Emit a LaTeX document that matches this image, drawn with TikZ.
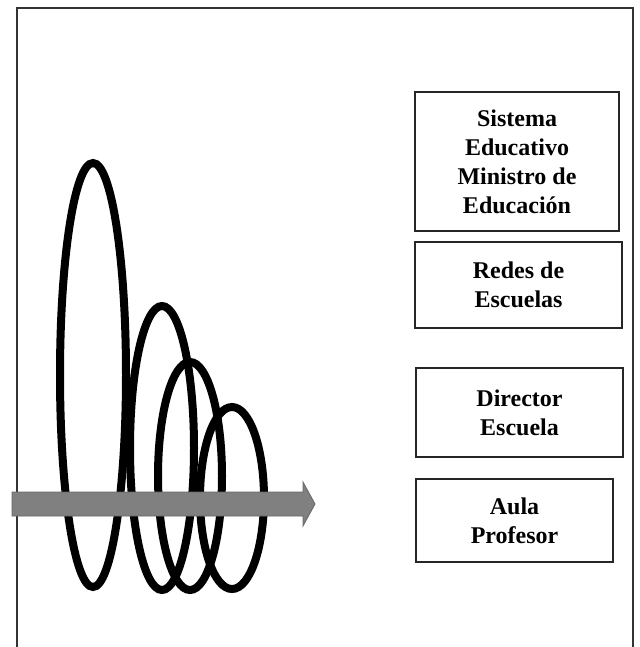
\documentclass[tikz,border=0pt]{standalone}
\usepackage{fontspec}
\setmainfont{Liberation Serif}
\usetikzlibrary{shapes.geometric}
\begin{document}
\begin{tikzpicture}[x=1pt,y=-1pt,
  loop/.style={draw=black,line width=8pt,ellipse,inner sep=0pt},
  levelbox/.style={draw=black!85,line width=2.6pt,align=center,inner sep=0pt,
    font=\fontsize{24}{29}\selectfont\bfseries,text=black}]
\useasboundingbox (0,0) rectangle (639,647);
\fill[white] (0,0) rectangle (639,647);
% frame
\draw[line width=2.6pt,black!80] (17,647) -- (17,8) -- (633,8) -- (633,647);
% loops
\node[loop,minimum width=66pt,minimum height=424pt] (e1) at (93,375) {};
\node[loop,minimum width=64pt,minimum height=284pt] (e2) at (162,448) {};
\node[loop,minimum width=64pt,minimum height=228pt] (e3) at (190,476) {};
\node[loop,minimum width=64pt,minimum height=182pt] (e4) at (232,498) {};
% arrow
\fill[black!50,draw=black!60,line width=0.8pt] (12,492) -- (303,492) -- (303,482) -- (315,504) -- (303,526) -- (303,516) -- (12,516) -- cycle;
% boxes
\node[levelbox,minimum width=204pt,minimum height=139pt] (b1) at (517,161.5) {Sistema\\Educativo\\Ministro de\\Educación};
\node[levelbox,minimum width=207pt,minimum height=86pt] (b2) at (518.5,285) {Redes de\\Escuelas};
\node[levelbox,minimum width=207pt,minimum height=89pt] (b3) at (519.5,412.5) {Director\\Escuela};
\node[levelbox,minimum width=197pt,minimum height=83pt] (b4) at (514.5,520.5) {Aula\\Profesor};
\end{tikzpicture}
\end{document}
